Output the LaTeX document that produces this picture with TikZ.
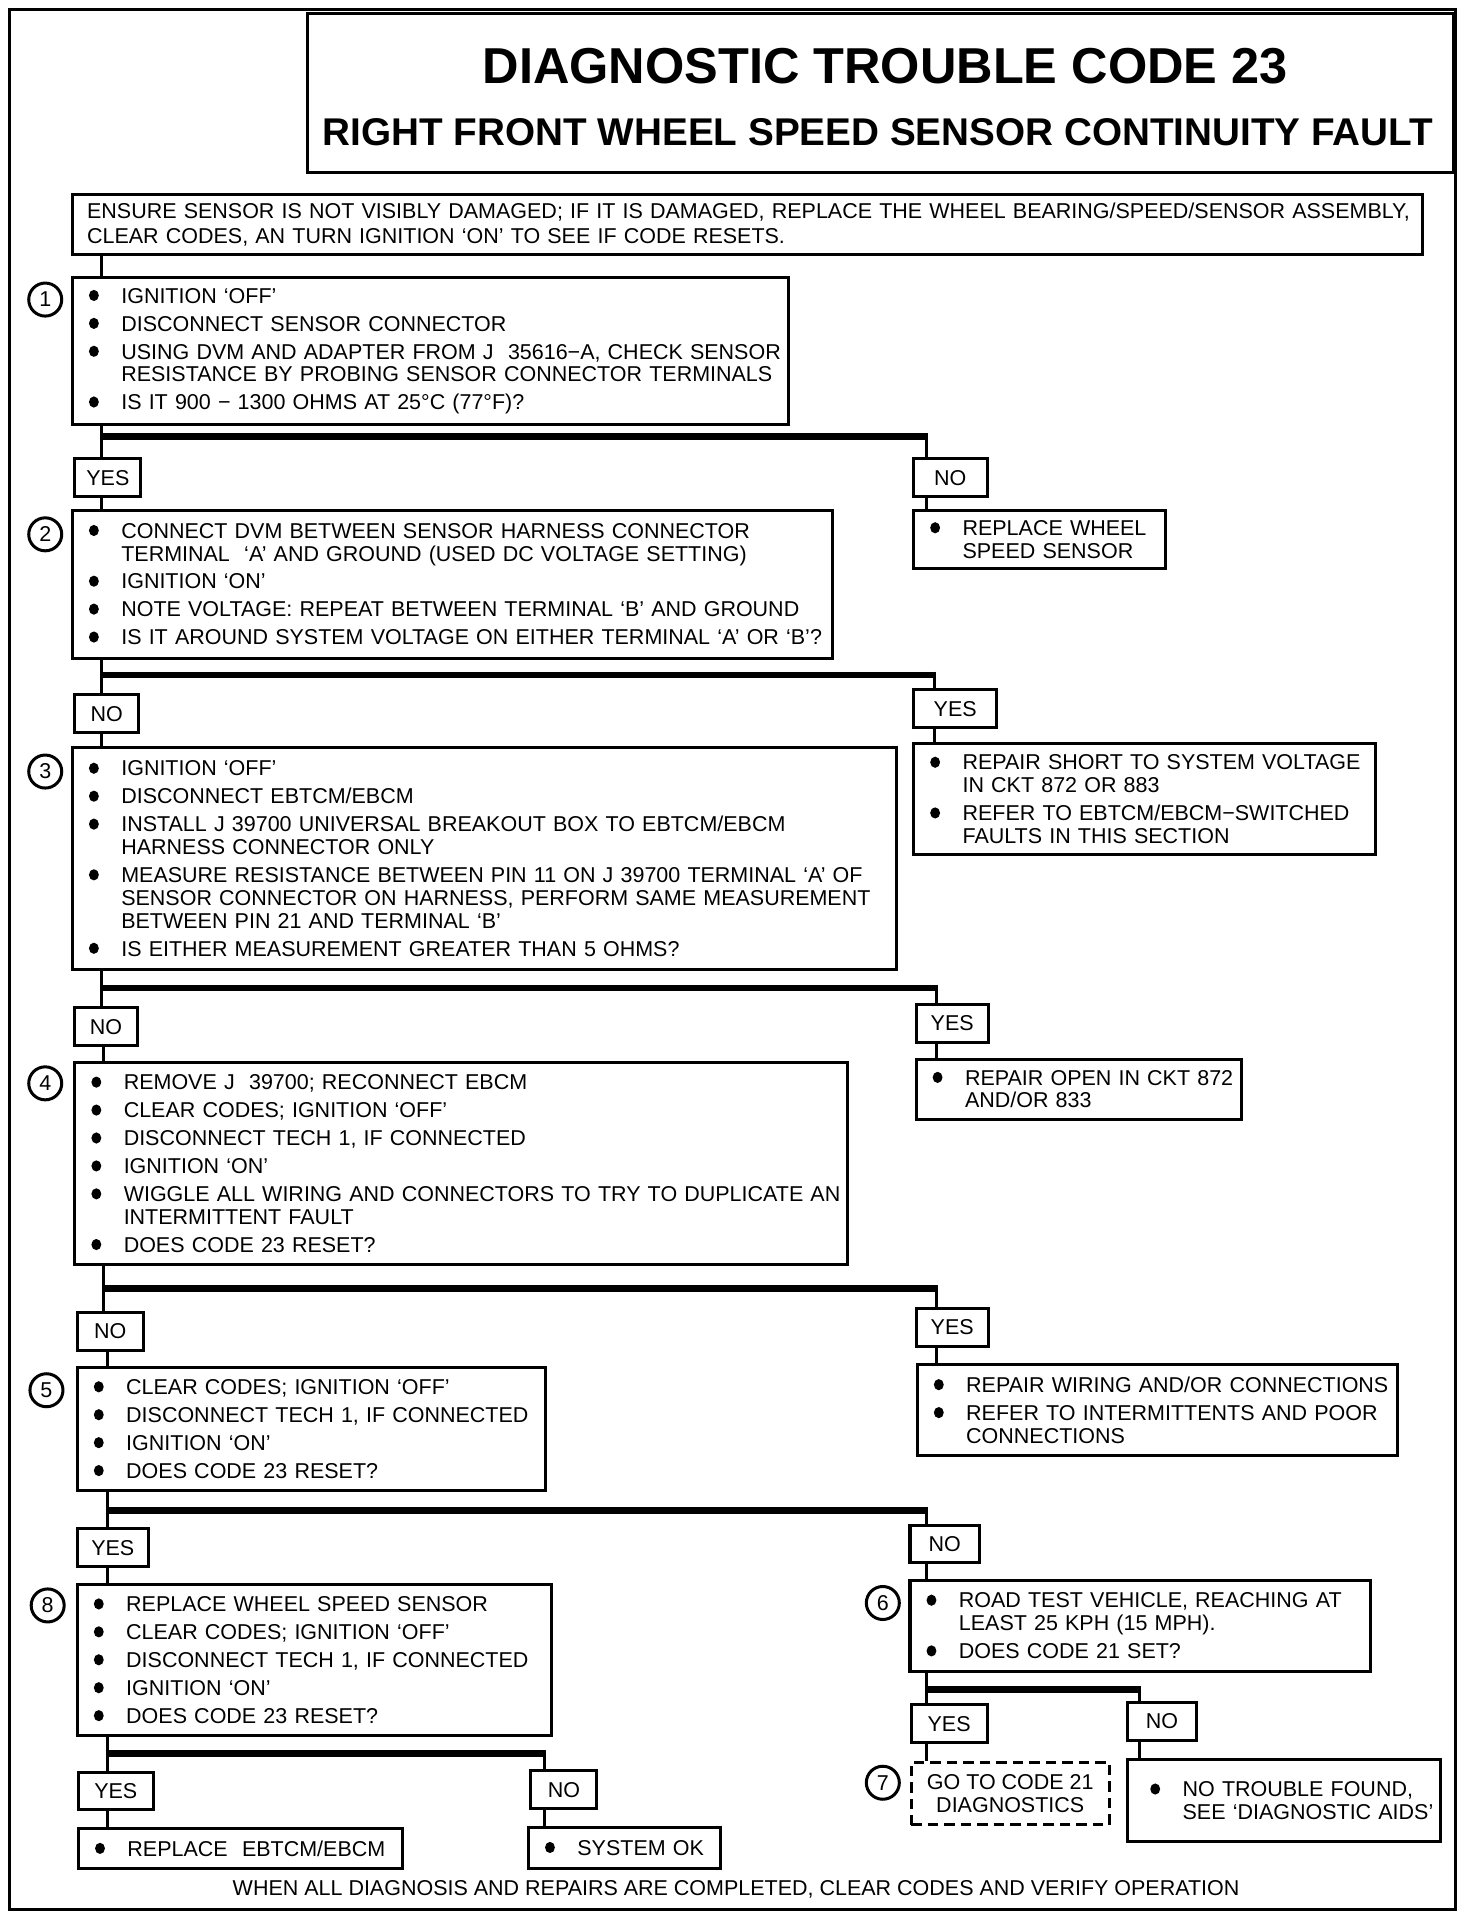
\documentclass[tikz,border=0pt]{standalone}
\usepackage{fontspec}
\setmainfont{Liberation Sans}
\usetikzlibrary{positioning}

\tikzset{
  box/.style={draw, line width=1.4pt, anchor=north west, inner xsep=0.26cm, inner ysep=0pt, align=left, font=\fontsize{10}{10.6}\selectfont},
  lbl/.style={draw, line width=1.4pt, anchor=north west, minimum height=0.62cm, inner sep=0pt, font=\fontsize{10}{12}\selectfont},
  num/.style={draw, circle, line width=1.4pt, minimum size=0.54cm, inner sep=0pt, font=\fontsize{10}{12}\selectfont},
  link/.style={line width=1.4pt},
  bar/.style={line width=3.2pt},
}
\newcommand{\bdot}{\tikz[baseline=-3.6pt]\fill (0,0) ellipse (2.3pt and 2.6pt);}
\newcommand{\bl}[1]{\mbox{\makebox[0.54cm][l]{\hspace{0.3pt}\bdot}#1}}
\newcommand{\ct}[1]{\mbox{\hspace{0.54cm}#1}}
\newcommand{\gap}{\\[2.4pt]}

\begin{document}
\begin{tikzpicture}[x=0.02cm, y=-0.02cm]
    \useasboundingbox (0,0) rectangle (1204,1567);

    % Outer frame and title block
    \draw[line width=1.4pt] (8,8) rectangle (1190,1562);
    \node[draw, line width=1.4pt, anchor=north west, minimum width=18.76cm, minimum height=2.6cm] (title) at (250,10) {};
    \node[font=\bfseries\fontsize{23.5}{26}\selectfont] (t1) at (724,54) {DIAGNOSTIC TROUBLE CODE 23};
    \node[font=\bfseries\fontsize{18}{20}\selectfont] (t2) at (718,108) {RIGHT FRONT WHEEL SPEED SENSOR CONTINUITY FAULT};

    % Trunk positions
    \coordinate (tk) at (83,0);
    \coordinate (tk4) at (85,0);
    \coordinate (tk5) at (88,0);

    % Intro box
    \node[box, inner xsep=0.24cm, text width=21.6cm, minimum height=0.98cm, font=\fontsize{10}{11.4}\selectfont] (b0) at (58,158)
      {\mbox{ENSURE SENSOR IS NOT VISIBLY DAMAGED; IF IT IS DAMAGED, REPLACE THE WHEEL BEARING/SPEED/SENSOR ASSEMBLY,}\\
       \mbox{CLEAR CODES, AN TURN IGNITION ‘ON’ TO SEE IF CODE RESETS.}};

    % Step 1
    \node[num] (n1) at (37,245) {1};
    \node[box, text width=11.2cm, minimum height=2.4cm] (b1) at (58,226)
      {\bl{IGNITION ‘OFF’}\gap
       \bl{DISCONNECT SENSOR CONNECTOR}\gap
       \bl{USING DVM AND ADAPTER FROM J\ \ 35616−A, CHECK SENSOR}\\
       \ct{RESISTANCE BY PROBING SENSOR CONNECTOR TERMINALS}\gap
       \bl{IS IT 900 − 1300 OHMS AT 25°C (77°F)?}};
    \node[lbl, minimum width=1.08cm] (yes1) at (60,374) {YES};
    \node[lbl, minimum width=1.2cm] (no1) at (746,374) {NO};
    \node[box, text width=3.6cm, minimum height=0.96cm] (r1) at (746,416)
      {\bl{REPLACE WHEEL}\\ \ct{SPEED SENSOR}};

    % Step 2
    \node[num] (n2) at (37,437) {2};
    \node[box, text width=11.92cm, minimum height=2.42cm] (b2) at (58,416)
      {\bl{CONNECT DVM BETWEEN SENSOR HARNESS CONNECTOR}\\
       \ct{TERMINAL\ \ ‘A’ AND GROUND (USED DC VOLTAGE SETTING)}\gap
       \bl{IGNITION ‘ON’}\gap
       \bl{NOTE VOLTAGE: REPEAT BETWEEN TERMINAL ‘B’ AND GROUND}\gap
       \bl{IS IT AROUND SYSTEM VOLTAGE ON EITHER TERMINAL ‘A’ OR ‘B’?}};
    \node[lbl, minimum width=1.04cm] (no2) at (60,567) {NO};
    \node[lbl, minimum width=1.36cm] (yes2) at (746,563) {YES};
    \node[box, text width=7.04cm, minimum height=1.82cm] (r2) at (746,607)
      {\bl{REPAIR SHORT TO SYSTEM VOLTAGE}\\
       \ct{IN CKT 872 OR 883}\gap
       \bl{REFER TO EBTCM/EBCM−SWITCHED}\\
       \ct{FAULTS IN THIS SECTION}};

    % Step 3
    \node[num] (n3) at (37,631) {3};
    \node[box, text width=12.96cm, minimum height=3.64cm] (b3) at (58,610)
      {\bl{IGNITION ‘OFF’}\gap
       \bl{DISCONNECT EBTCM/EBCM}\gap
       \bl{INSTALL J 39700 UNIVERSAL BREAKOUT BOX TO EBTCM/EBCM}\\
       \ct{HARNESS CONNECTOR ONLY}\gap
       \bl{MEASURE RESISTANCE BETWEEN PIN 11 ON J 39700 TERMINAL ‘A’ OF}\\
       \ct{SENSOR CONNECTOR ON HARNESS, PERFORM SAME MEASUREMENT}\\
       \ct{BETWEEN PIN 21 AND TERMINAL ‘B’}\gap
       \bl{IS EITHER MEASUREMENT GREATER THAN 5 OHMS?}};
    \node[lbl, minimum width=1.02cm] (no3) at (60,823) {NO};
    \node[lbl, minimum width=1.18cm] (yes3) at (748,820) {YES};
    \node[box, text width=4.8cm, minimum height=0.98cm] (r3) at (748,865)
      {\bl{REPAIR OPEN IN CKT 872}\\ \ct{AND/OR 833}};

    % Step 4
    \node[num] (n4) at (37,886) {4};
    \node[box, text width=12.12cm, minimum height=3.3cm] (b4) at (60,868)
      {\bl{REMOVE J\ \ 39700; RECONNECT EBCM}\gap
       \bl{CLEAR CODES; IGNITION ‘OFF’}\gap
       \bl{DISCONNECT TECH 1, IF CONNECTED}\gap
       \bl{IGNITION ‘ON’}\gap
       \bl{WIGGLE ALL WIRING AND CONNECTORS TO TRY TO DUPLICATE AN}\\
       \ct{INTERMITTENT FAULT}\gap
       \bl{DOES CODE 23 RESET?}};
    \node[lbl, minimum width=1.08cm] (no4) at (62,1072) {NO};
    \node[lbl, minimum width=1.18cm] (yes4) at (748,1069) {YES};
    \node[box, text width=7.34cm, minimum height=1.48cm] (r4) at (749,1115)
      {\bl{REPAIR WIRING AND/OR CONNECTIONS}\gap
       \bl{REFER TO INTERMITTENTS AND POOR}\\ \ct{CONNECTIONS}};

    % Step 5
    \node[num] (n5) at (38,1137) {5};
    \node[box, text width=7.14cm, minimum height=2.02cm] (b5) at (62,1117)
      {\bl{CLEAR CODES; IGNITION ‘OFF’}\gap
       \bl{DISCONNECT TECH 1, IF CONNECTED}\gap
       \bl{IGNITION ‘ON’}\gap
       \bl{DOES CODE 23 RESET?}};
    \node[lbl, minimum width=1.16cm] (yes5) at (62,1249) {YES};
    \node[lbl, minimum width=1.14cm] (no5) at (743,1246) {NO};

    % Step 8
    \node[num] (n8) at (39,1313) {8};
    \node[box, text width=7.24cm, minimum height=2.46cm] (b8) at (62,1295)
      {\bl{REPLACE WHEEL SPEED SENSOR}\gap
       \bl{CLEAR CODES; IGNITION ‘OFF’}\gap
       \bl{DISCONNECT TECH 1, IF CONNECTED}\gap
       \bl{IGNITION ‘ON’}\gap
       \bl{DOES CODE 23 RESET?}};
    \node[lbl, minimum width=1.22cm] (yes8) at (63,1448) {YES};
    \node[lbl, minimum width=1.08cm] (no8) at (433,1447) {NO};
    \node[box, text width=4.78cm, minimum height=0.66cm] (r8y) at (63,1494) {\bl{REPLACE\ \ EBTCM/EBCM}};
    \node[box, text width=2.62cm, minimum height=0.68cm] (r8n) at (431,1493) {\bl{SYSTEM OK}};

    % Step 6 and 7
    \node[num] (n6) at (722,1311) {6};
    \node[box, text width=7.02cm, minimum height=1.5cm] (b6) at (743,1291)
      {\bl{ROAD TEST VEHICLE, REACHING AT}\\
       \ct{LEAST 25 KPH (15 MPH).}\gap
       \bl{DOES CODE 21 SET?}};
    \node[lbl, minimum width=1.24cm] (yes6) at (744,1393) {YES};
    \node[lbl, minimum width=1.12cm] (no6) at (921,1391) {NO};
    \node[num] (n7) at (722,1458) {7};
    \node[box, dashed, dash pattern=on 0.17cm off 0.1cm, align=center, inner xsep=0pt, minimum width=3.24cm, minimum height=1.02cm] (b7) at (744,1440)
      {GO TO CODE 21\\ DIAGNOSTICS};
    \node[box, inner xsep=0.36cm, text width=4.4cm, minimum height=1.34cm] (r6) at (921,1438)
      {\bl{NO TROUBLE FOUND,}\\ \ct{SEE ‘DIAGNOSTIC AIDS’}};

    % Footer
    \node[font=\fontsize{10}{12}\selectfont] (foot) at (602,1545) {WHEN ALL DIAGNOSIS AND REPAIRS ARE COMPLETED, CLEAR CODES AND VERIFY OPERATION};

    % Junction points of the branch bars
    \coordinate (j1) at (83,357);  \coordinate (k1) at (758,357);
    \coordinate (j2) at (83,552);  \coordinate (k2) at (764,552);
    \coordinate (j3) at (83,808);  \coordinate (k3) at (766,808);
    \coordinate (j4) at (85,1054); \coordinate (k4) at (766,1054);
    \coordinate (j5) at (88,1235); \coordinate (k5) at (758,1235);
    \coordinate (j8) at (88,1434); \coordinate (k8) at (445,1434);
    \coordinate (j6) at (758,1382); \coordinate (k6) at (932,1382);

    % Trunk on the left
    \draw[link] (b0.south -| tk) -- (b1.north -| tk);
    \draw[link] (b1.south -| tk) -- (yes1.north -| tk);
    \draw[link] (yes1.south -| tk) -- (b2.north -| tk);
    \draw[link] (b2.south -| tk) -- (no2.north -| tk);
    \draw[link] (no2.south -| tk) -- (b3.north -| tk);
    \draw[link] (b3.south -| tk) -- (no3.north -| tk);
    \draw[link] (no3.south -| tk4) -- (b4.north -| tk4);
    \draw[link] (b4.south -| tk4) -- (no4.north -| tk4);
    \draw[link] (no4.south -| tk5) -- (b5.north -| tk5);
    \draw[link] (b5.south -| tk5) -- (yes5.north -| tk5);
    \draw[link] (yes5.south -| tk5) -- (b8.north -| tk5);
    \draw[link] (b8.south -| tk5) -- (yes8.north -| tk5);
    \draw[link] (yes8.south -| tk5) -- (r8y.north -| tk5);

    % Branch bars
    \foreach \j/\k in {j1/k1, j2/k2, j3/k3, j4/k4, j5/k5, j8/k8, j6/k6}
      \draw[bar] (\j) -- ([xshift=0.7pt]\k);

    % Drops on the right
    \draw[link] ([yshift=1.6pt]k1) -- (k1 |- no1.north);
    \draw[link] (no1.south -| k1) -- (r1.north -| k1);
    \draw[link] ([yshift=1.6pt]k2) -- (k2 |- yes2.north);
    \draw[link] (yes2.south -| k2) -- (r2.north -| k2);
    \draw[link] ([yshift=1.6pt]k3) -- (k3 |- yes3.north);
    \draw[link] (yes3.south -| k3) -- (r3.north -| k3);
    \draw[link] ([yshift=1.6pt]k4) -- (k4 |- yes4.north);
    \draw[link] (yes4.south -| k4) -- (r4.north -| k4);
    \draw[link] ([yshift=1.6pt]k5) -- (k5 |- no5.north);
    \draw[link] (no5.south -| k5) -- (b6.north -| k5);
    \draw[link] ([yshift=1.6pt]k8) -- (k8 |- no8.north);
    \draw[link] (no8.south -| k8) -- (r8n.north -| k8);
    \draw[link] (b6.south -| j6) -- (yes6.north -| j6);
    \draw[link] (yes6.south -| j6) -- (b7.north -| j6);
    \draw[link] ([yshift=1.6pt]k6) -- (k6 |- no6.north);
    \draw[link] (no6.south -| k6) -- (r6.north -| k6);
\end{tikzpicture}
\end{document}
